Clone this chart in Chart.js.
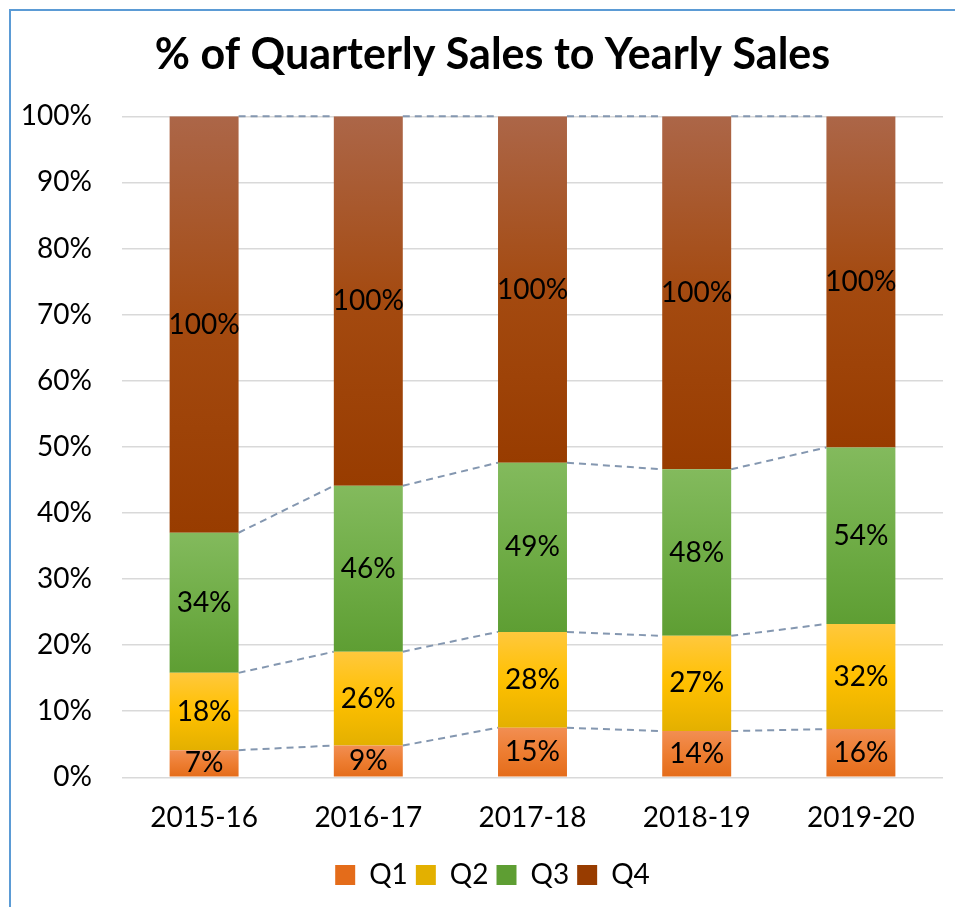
<!DOCTYPE html>
<html>
<head>
<meta charset="utf-8">
<title>% of Quarterly Sales to Yearly Sales</title>
<script src="https://cdn.jsdelivr.net/npm/chart.js@4.4.1/dist/chart.umd.min.js"></script>
<style>
  html, body { margin:0; padding:0; background:#fff; overflow:hidden; }
  #frame { position:absolute; left:9px; top:9px; width:2000px; height:2000px;
           border-top:2px solid #5B9BD5; border-left:2px solid #5B9BD5; }
  #wrap  { position:absolute; left:10px; top:10px; width:965px; height:897px; }
</style>
</head>
<body>
<div id="frame"></div>
<div id="wrap"><canvas id="salesChart"></canvas></div>
<script>
/* data */
const years   = ['2015-16', '2016-17', '2017-18', '2018-19', '2019-20'];
const quarters = ['Q1', 'Q2', 'Q3', 'Q4'];
const q1 = [4.1, 4.8, 7.5, 7.0, 7.3];
const q2 = [11.7, 14.2, 14.5, 14.4, 15.9];
const q3 = [21.2, 25.1, 25.6, 25.2, 26.7];
const q4 = [63.0, 55.9, 52.4, 53.4, 50.1];
const q1Labels = ['7%', '9%', '15%', '14%', '16%'];
const q2Labels = ['18%', '26%', '28%', '27%', '32%'];
const q3Labels = ['34%', '46%', '49%', '48%', '54%'];
const q4Labels = ['100%', '100%', '100%', '100%', '100%'];
const yTicks = [0, 10, 20, 30, 40, 50, 60, 70, 80, 90, 100];

const FONT = 'Lato, "Open Sans", sans-serif';
const series = [q1, q2, q3, q4];
const labelSets = [q1Labels, q2Labels, q3Labels, q4Labels];
const shades = [
    ['#F28E52', '#ED7D31', '#E46C1A'],
    ['#FFC83D', '#FFC000', '#E3B000'],
    ['#83BA5D', '#70AD47', '#5E9E33'],
    ['#AC6648', '#A44A10', '#983C00']
];

/* vertical gradient per segment, lighter at top */
function segmentFill(ds) {
    return ctx => {
        const chart = ctx.chart, y = chart.scales.y;
        if (ctx.type !== 'data' || !y) return shades[ds][1];
        const i = ctx.dataIndex;
        let base = 0;
        for (let k = 0; k < ds; k++) base += series[k][i];
        const top = base + series[ds][i];
        const y0 = y.getPixelForValue(top), y1 = y.getPixelForValue(base);
        if (!isFinite(y0) || !isFinite(y1)) return shades[ds][1];
        const g = chart.ctx.createLinearGradient(0, y0, 0, y1);
        g.addColorStop(0, shades[ds][0]);
        g.addColorStop(0.5, shades[ds][1]);
        g.addColorStop(1, shades[ds][2]);
        return g;
    };
}

/* dashed series lines between bar tops */
const seriesLines = {
    id: 'seriesLines',
    beforeDatasetsDraw(chart) {
        const c = chart.ctx;
        c.save();
        c.strokeStyle = '#8497B0';
        c.lineWidth = 2;
        c.setLineDash([7, 5]);
        chart.data.datasets.forEach((_, di) => {
            const bars = chart.getDatasetMeta(di).data;
            for (let i = 0; i < bars.length - 1; i++) {
                const a = bars[i], b = bars[i + 1];
                c.beginPath();
                c.moveTo(a.x + a.width / 2, a.y);
                c.lineTo(b.x - b.width / 2, b.y);
                c.stroke();
            }
        });
        c.restore();
    }
};

/* centred segment labels */
const segLabels = {
    id: 'segLabels',
    afterDatasetsDraw(chart) {
        const c = chart.ctx;
        c.save();
        c.font = '28px ' + FONT;
        c.fillStyle = '#000';
        c.textAlign = 'center';
        c.textBaseline = 'middle';
        chart.data.datasets.forEach((_, di) => {
            chart.getDatasetMeta(di).data.forEach((bar, i) => {
                c.fillText(labelSets[di][i], bar.x, (bar.y + bar.base) / 2);
            });
        });
        c.restore();
    }
};

new Chart(document.getElementById('salesChart').getContext('2d'), {
    type: 'bar',
    data: {
        labels: years,
        datasets: series.map((vals, di) => ({
            label: quarters[di],
            data: vals,
            backgroundColor: segmentFill(di),
            borderWidth: 0,
            barPercentage: 0.42,
            categoryPercentage: 1
        }))
    },
    options: {
        responsive: true,
        maintainAspectRatio: false,
        animation: false,
        layout: { padding: { top: 0, right: 0, bottom: 8, left: 0 } },
        plugins: {
            title: {
                display: true,
                text: '% of Quarterly Sales to Yearly Sales',
                color: '#000',
                font: { family: FONT, size: 43, weight: 'bold', lineHeight: 1.2 },
                padding: { top: 19.2, bottom: 35.5 }
            },
            legend: {
                position: 'bottom',
                labels: {
                    color: '#000',
                    font: { family: FONT, size: 28 },
                    boxWidth: 20, boxHeight: 20,
                    padding: 8
                }
            },
            tooltip: { enabled: false }
        },
        scales: {
            x: {
                stacked: true,
                grid: { display: false },
                border: { display: false },
                ticks: { color: '#000', font: { family: FONT, size: 28 }, padding: 16 },
                afterFit: s => { s.height = 75.7; }
            },
            y: {
                stacked: true,
                min: 0, max: 100,
                afterBuildTicks: s => { s.ticks = yTicks.map(v => ({ value: v })); },
                grid: { color: '#D9D9D9', lineWidth: 1.5, drawTicks: false },
                border: { display: false },
                ticks: { color: '#000', font: { family: FONT, size: 28 }, padding: 30, callback: v => v + '%' },
                afterFit: s => { s.width = 112; }
            },
            /* empty right margin so the legend and title stay centred on the full frame */
            gap: {
                type: 'linear',
                position: 'right',
                grid: { display: false },
                border: { display: false },
                ticks: { display: false },
                afterFit: s => { s.width = 32; }
            }
        }
    },
    plugins: [seriesLines, segLabels]
});
</script>
</body>
</html>
